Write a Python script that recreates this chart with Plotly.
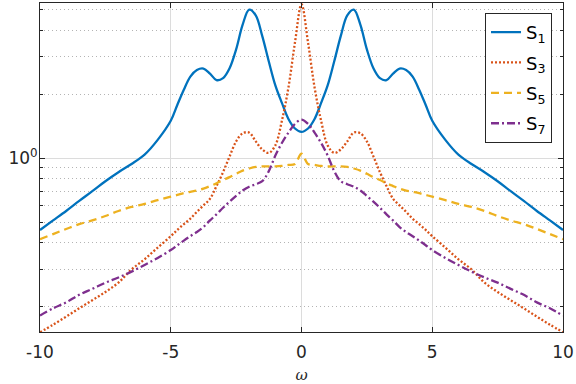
import plotly.graph_objects as go

# frequency grid and spectra
omega = [-10, -9.5, -9, -8.5, -8, -7.5, -7, -6.5, -6, -5.5,
         -5, -4.75, -4.5, -4.25, -4, -3.75, -3.5, -3.25, -3, -2.75,
         -2.5, -2.25, -2, -1.75, -1.5, -1.25, -1, -0.75, -0.5, -0.25,
         0,
         0.25, 0.5, 0.75, 1, 1.25, 1.5, 1.75, 2, 2.25, 2.5,
         2.75, 3, 3.25, 3.5, 3.75, 4, 4.25, 4.5, 4.75, 5,
         5.5, 6, 6.5, 7, 7.5, 8, 8.5, 9, 9.5, 10]

s1 = [0.46, 0.51, 0.565, 0.63, 0.70, 0.78, 0.86, 0.94, 1.04, 1.22,
      1.50, 1.78, 2.10, 2.42, 2.60, 2.64, 2.50, 2.33, 2.38, 2.65,
      3.25, 4.25, 5.00, 4.70, 3.75, 2.85, 2.20, 1.82, 1.53, 1.38,
      1.33,
      1.38, 1.53, 1.82, 2.20, 2.85, 3.75, 4.70, 5.00, 4.25, 3.25,
      2.65, 2.38, 2.33, 2.50, 2.64, 2.60, 2.42, 2.10, 1.78, 1.50,
      1.22, 1.04, 0.94, 0.86, 0.78, 0.70, 0.63, 0.565, 0.51, 0.46]

s3 = [0.152, 0.165, 0.18, 0.197, 0.215, 0.235, 0.26, 0.30, 0.335, 0.38,
      0.43, 0.46, 0.49, 0.52, 0.56, 0.60, 0.645, 0.74, 0.86, 1.02,
      1.20, 1.31, 1.32, 1.20, 1.10, 1.06, 1.15, 1.50, 2.15, 3.50,
      5.30,
      3.50, 2.15, 1.50, 1.15, 1.06, 1.10, 1.20, 1.32, 1.31, 1.20,
      1.02, 0.86, 0.74, 0.645, 0.60, 0.56, 0.52, 0.49, 0.46, 0.43,
      0.38, 0.335, 0.30, 0.26, 0.235, 0.215, 0.197, 0.18, 0.165, 0.152]

s5 = [0.416, 0.44, 0.465, 0.49, 0.51, 0.535, 0.565, 0.59, 0.61, 0.635,
      0.66, 0.672, 0.685, 0.695, 0.705, 0.72, 0.74, 0.762, 0.79, 0.815,
      0.845, 0.875, 0.895, 0.91, 0.915, 0.915, 0.915, 0.92, 0.93, 0.94,
      1.05,
      0.94, 0.93, 0.92, 0.915, 0.915, 0.915, 0.91, 0.895, 0.875, 0.845,
      0.815, 0.79, 0.762, 0.74, 0.72, 0.705, 0.695, 0.685, 0.672, 0.66,
      0.635, 0.61, 0.59, 0.565, 0.535, 0.51, 0.49, 0.465, 0.44, 0.416]

s7 = [0.182, 0.197, 0.21, 0.228, 0.243, 0.26, 0.275, 0.293, 0.315, 0.34,
      0.37, 0.39, 0.41, 0.43, 0.45, 0.475, 0.51, 0.545, 0.585, 0.625,
      0.665, 0.705, 0.735, 0.755, 0.78, 0.87, 1.03, 1.18, 1.32, 1.45,
      1.52,
      1.45, 1.32, 1.18, 1.03, 0.87, 0.78, 0.755, 0.735, 0.705, 0.665,
      0.625, 0.585, 0.545, 0.51, 0.475, 0.45, 0.43, 0.41, 0.39, 0.37,
      0.34, 0.315, 0.293, 0.275, 0.26, 0.243, 0.228, 0.21, 0.197, 0.182]

x_ticks = [-10, -5, 0, 5, 10]
y_minor = [0.2, 0.3, 0.4, 0.5, 0.6, 0.7, 0.8, 0.9, 2, 3, 4, 5]

series = [
    ("S<sub>1</sub>", s1, "#0072BD", "solid"),
    ("S<sub>3</sub>", s3, "#D95319", "2px,2px"),
    ("S<sub>5</sub>", s5, "#EDB120", "8px,5px"),
    ("S<sub>7</sub>", s7, "#7E2F8E", "8px,3px,2px,3px"),
]

FONT = "DejaVu Sans, sans-serif"
AX   = "#262626"

fig = go.Figure()
for i, (name, ys, color, dash) in enumerate(series):
    fig.add_trace(go.Scatter(
        x=omega, y=ys, mode="lines", name=name, legendgroup=f"g{i}",
        line=dict(color=color, width=2.3, dash=dash, shape="spline", smoothing=1.0),
    ))

fig.update_xaxes(
    range=[-10, 10], tickvals=x_ticks, ticktext=[str(v) for v in x_ticks],
    showline=True, linecolor=AX, linewidth=1, mirror="ticks",
    ticks="inside", ticklen=5, tickcolor=AX, ticklabelstandoff=5,
    showgrid=True, gridcolor="#dcdcdc", gridwidth=1, zeroline=False,
    tickfont=dict(family=FONT, size=17, color=AX),
    title=dict(text="<i>ω</i>", font=dict(family="DejaVu Serif", size=15, color=AX), standoff=8),
    automargin=False,
)
fig.update_yaxes(
    type="log", range=[-0.817, 0.730],
    tickvals=[1], ticktext=["10<sup>0</sup>"],
    showline=True, linecolor=AX, linewidth=1, mirror="ticks",
    ticks="inside", ticklen=5, tickcolor=AX, ticklabelstandoff=-2,
    showgrid=True, gridcolor="#dcdcdc", gridwidth=1, zeroline=False,
    tickfont=dict(family=FONT, size=17, color=AX),
    minor=dict(tickvals=y_minor, ticks="inside", ticklen=3, tickcolor=AX,
               showgrid=True, gridcolor="#b4b4b4", griddash="1px,3px", gridwidth=1),
    automargin=False,
)
fig.update_layout(
    width=576, height=384,
    margin=dict(l=40, r=13, t=3, b=52),
    plot_bgcolor="white", paper_bgcolor="white",
    showlegend=True,
    legend=dict(
        x=0.979, xanchor="right", y=0.97, yanchor="top",
        bgcolor="white", bordercolor="#262626", borderwidth=1,
        font=dict(family=FONT, size=18, color="#000000"),
        tracegroupgap=4,
    ),
)

fig.write_html("out.html", config={"displayModeBar": False},
               post_script="document.body.style.margin='0';")
